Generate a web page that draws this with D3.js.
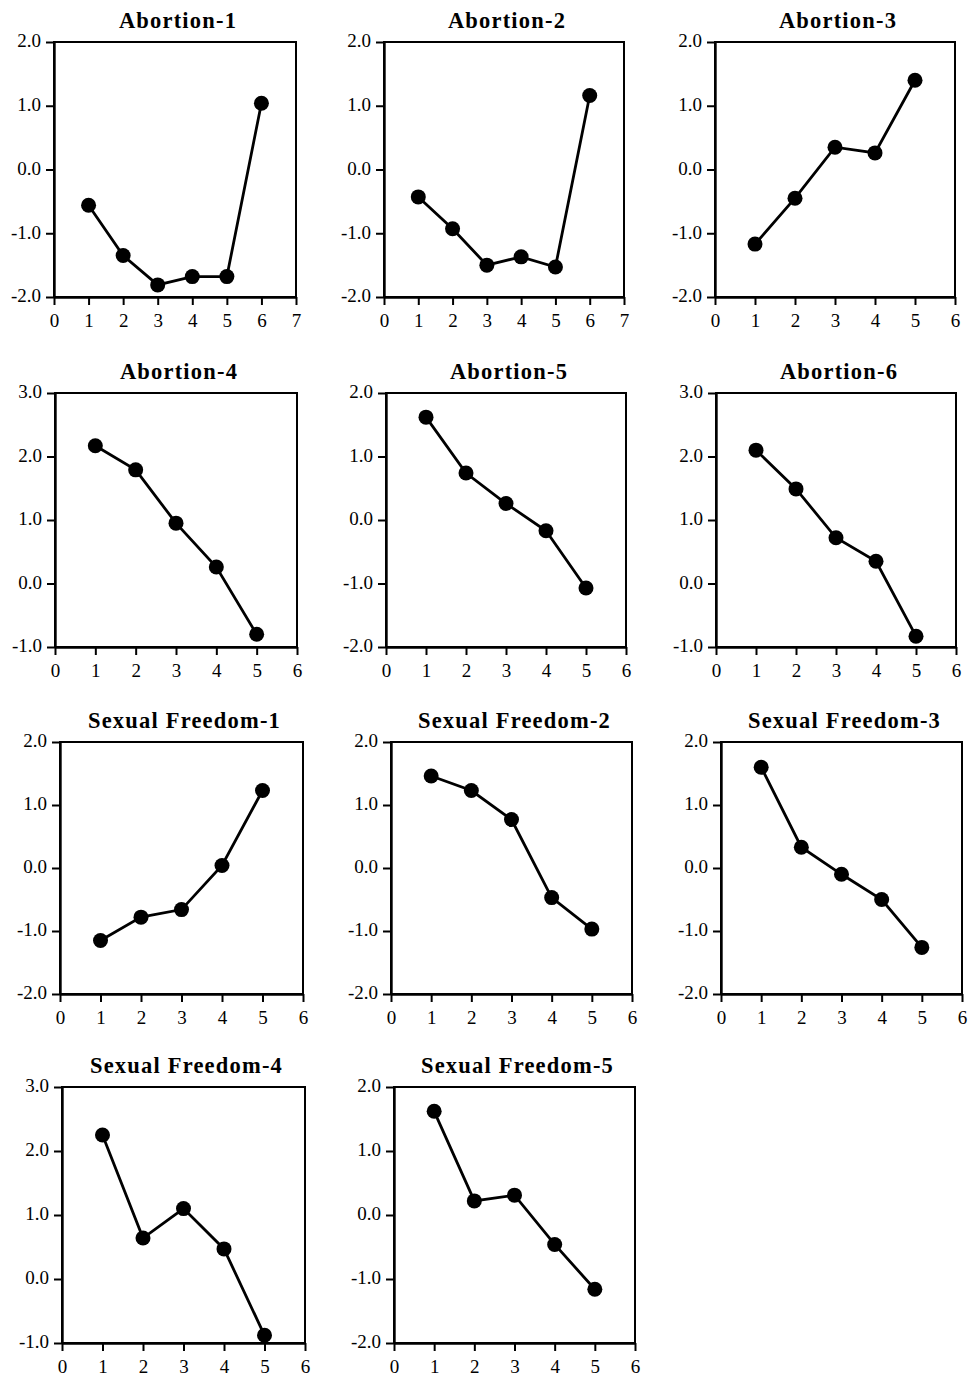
<!DOCTYPE html>
<html>
<head>
<meta charset="utf-8">
<script src="https://cdn.jsdelivr.net/npm/d3@7"></script>
<style>
  body { margin: 0; background: #fff; }
  svg text { font-family: 'Liberation Serif', 'Times New Roman', serif; fill: #000; }
  .title { font-weight: bold; font-size: 22.5px; letter-spacing: 1.2px; }
  .tick text { font-size: 19px; }
</style>
</head>
<body>
<svg id="chart"></svg>
<script>
// ---- data ----
const titles = [
  'Abortion-1', 'Abortion-2', 'Abortion-3',
  'Abortion-4', 'Abortion-5', 'Abortion-6',
  'Sexual Freedom-1', 'Sexual Freedom-2', 'Sexual Freedom-3',
  'Sexual Freedom-4', 'Sexual Freedom-5'
];

const abortion1 = [-0.56, -1.35, -1.81, -1.68, -1.68, 1.04];
const abortion2 = [-0.43, -0.93, -1.50, -1.37, -1.53, 1.16];
const abortion3 = [-1.17, -0.45, 0.35, 0.26, 1.40];
const abortion4 = [2.17, 1.79, 0.95, 0.26, -0.80];
const abortion5 = [1.62, 0.74, 0.26, -0.17, -1.07];
const abortion6 = [2.10, 1.49, 0.72, 0.35, -0.83];
const sexFreedom1 = [-1.15, -0.78, -0.66, 0.04, 1.23];
const sexFreedom2 = [1.46, 1.23, 0.77, -0.47, -0.97];
const sexFreedom3 = [1.60, 0.33, -0.10, -0.50, -1.26];
const sexFreedom4 = [2.25, 0.64, 1.10, 0.47, -0.88];
const sexFreedom5 = [1.62, 0.22, 0.31, -0.46, -1.16];

const series = [abortion1, abortion2, abortion3, abortion4, abortion5, abortion6,
  sexFreedom1, sexFreedom2, sexFreedom3, sexFreedom4, sexFreedom5];

// x axis max for each panel, y axis range for each panel
const xMax = [7, 7, 6, 6, 6, 6, 6, 6, 6, 6, 6];
const yMin = [-2, -2, -2, -1, -2, -1, -2, -2, -2, -1, -2];
const yMax = [2, 2, 2, 3, 2, 3, 2, 2, 2, 3, 2];

// ---- layout (plot box edges in page pixels) ----
const boxes = [
  [54, 296, 42, 297], [384, 624, 42, 297], [715, 955, 42, 297],
  [55, 297, 393, 647], [386, 626, 393, 647], [716, 956, 393, 647],
  [60, 303, 742, 994], [391, 632, 742, 994], [721, 962, 742, 994],
  [62, 305, 1087, 1343], [394, 635, 1087, 1343]
];

const width = 969;
const height = 1377;

const svg = d3.select('#chart')
  .attr('width', width)
  .attr('height', height);

const fmt = (d) => d.toFixed(1);

series.forEach((vals, i) => {
  const [x0, x1, y0, y1] = boxes[i];

  const xScale = d3.scaleLinear().domain([0, xMax[i]]).range([x0, x1]);
  const yScale = d3.scaleLinear().domain([yMin[i], yMax[i]]).range([y1, y0]);

  const g = svg.append('g');

  // frame
  g.append('rect')
    .attr('x', x0)
    .attr('y', y0)
    .attr('width', x1 - x0)
    .attr('height', y1 - y0)
    .attr('fill', 'none')
    .attr('stroke', '#000')
    .attr('stroke-width', 2);

  // axes
  const yAxis = d3.axisLeft(yScale)
    .tickValues(d3.range(yMin[i], yMax[i] + 1))
    .tickSize(8)
    .tickSizeOuter(0)
    .tickPadding(5)
    .tickFormat(fmt);

  const xAxis = d3.axisBottom(xScale)
    .tickValues(d3.range(0, xMax[i] + 1))
    .tickSize(8)
    .tickSizeOuter(0)
    .tickPadding(9)
    .tickFormat(d3.format('d'));

  const ya = g.append('g')
    .attr('transform', `translate(${x0},0)`)
    .call(yAxis);
  ya.selectAll('text').attr('dy', '0.25em');

  const xa = g.append('g')
    .attr('transform', `translate(0,${y1})`)
    .call(xAxis);

  [ya, xa].forEach((a) => {
    a.attr('font-family', null).attr('font-size', null);
    a.select('.domain').attr('stroke-width', 2.4);
    a.selectAll('.tick line').attr('stroke-width', 2);
  });

  // line + markers
  const pts = vals.map((v, j) => ({ x: j + 1, y: v }));

  const line = d3.line()
    .x((d) => xScale(d.x))
    .y((d) => yScale(d.y));

  g.append('path')
    .datum(pts)
    .attr('fill', 'none')
    .attr('stroke', '#000')
    .attr('stroke-width', 2.8)
    .attr('d', line);

  g.selectAll('circle')
    .data(pts)
    .enter()
    .append('circle')
    .attr('cx', (d) => xScale(d.x))
    .attr('cy', (d) => yScale(d.y))
    .attr('r', 7.5)
    .attr('fill', '#000');

  // title
  g.append('text')
    .attr('class', 'title')
    .attr('x', (x0 + x1) / 2 + 3)
    .attr('y', y0 - 14)
    .attr('text-anchor', 'middle')
    .text(titles[i]);
});
</script>
</body>
</html>
